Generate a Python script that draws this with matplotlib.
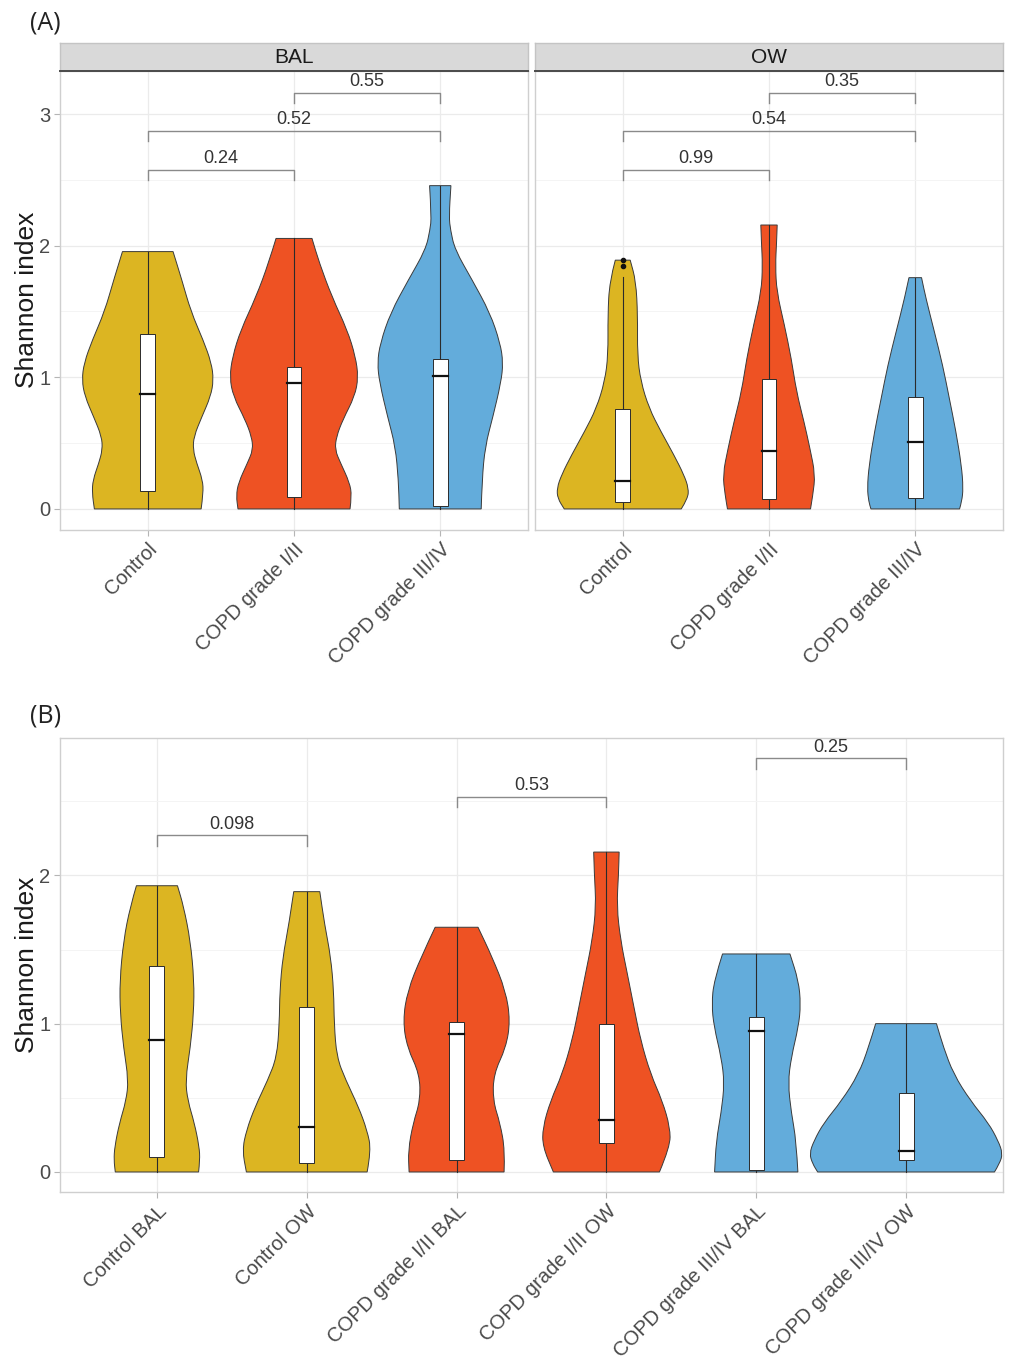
import numpy as np
import matplotlib
matplotlib.use("Agg")
import matplotlib.pyplot as plt
from matplotlib.path import Path
from matplotlib.patches import PathPatch, Rectangle

plt.rcParams['font.family'] = ['Liberation Sans', 'DejaVu Sans']

# ---------------- DATA ----------------
GROUPS_A = ["Control", "COPD grade I/II", "COPD grade III/IV"]
GROUPS_B = ["Control BAL", "Control OW", "COPD grade I/II BAL",
            "COPD grade I/II OW", "COPD grade III/IV BAL", "COPD grade III/IV OW"]

GOLD, RED, BLUE = "#DCB522", "#EE5223", "#63ACDB"
COLORS_A = [GOLD, RED, BLUE]
COLORS_B = [GOLD, GOLD, RED, RED, BLUE, BLUE]

# violin outlines: Shannon value levels and half width (in category units)
BAL_Y = [
    [0, 0.12, 0.22, 0.35, 0.45, 0.55, 0.70, 0.855, 0.98, 1.11, 1.28, 1.50, 1.74, 1.955],
    [0, 0.10, 0.20, 0.35, 0.45, 0.55, 0.68, 0.855, 1.0, 1.16, 1.36, 1.61, 1.87, 2.055],
    [0, 0.22, 0.475, 0.70, 0.96, 1.11, 1.26, 1.49, 1.74, 1.97, 2.12, 2.22, 2.456],
]
BAL_W = [
    [0.365, 0.38, 0.375, 0.334, 0.31, 0.315, 0.37, 0.43, 0.45, 0.435, 0.38, 0.295, 0.233, 0.173],
    [0.383, 0.395, 0.38, 0.318, 0.28, 0.29, 0.335, 0.415, 0.44, 0.42, 0.364, 0.26, 0.173, 0.123],
    [0.28, 0.286, 0.307, 0.36, 0.415, 0.43, 0.41, 0.34, 0.218, 0.10, 0.07, 0.06, 0.073],
]
OW_Y = [
    [0, 0.08, 0.157, 0.26, 0.41, 0.59, 0.765, 0.97, 1.17, 1.47, 1.73, 1.89],
    [0, 0.106, 0.26, 0.46, 0.66, 0.89, 1.14, 1.40, 1.65, 1.85, 2.03, 2.157],
    [0, 0.056, 0.157, 0.33, 0.59, 0.84, 1.09, 1.35, 1.60, 1.757],
]
OW_W = [
    [0.40, 0.445, 0.45, 0.418, 0.35, 0.26, 0.18, 0.123, 0.10, 0.102, 0.09, 0.051],
    [0.284, 0.30, 0.316, 0.28, 0.24, 0.188, 0.153, 0.105, 0.053, 0.044, 0.052, 0.056],
    [0.303, 0.318, 0.328, 0.316, 0.278, 0.233, 0.188, 0.13, 0.073, 0.043],
]
B_Y = [
    [0, 0.08, 0.17, 0.33, 0.48, 0.62, 0.84, 1.07, 1.29, 1.56, 1.79, 1.93],
    [0, 0.146, 0.28, 0.44, 0.62, 0.775, 1.0, 1.22, 1.45, 1.67, 1.89],
    [0, 0.146, 0.33, 0.48, 0.66, 0.84, 1.02, 1.22, 1.45, 1.65],
    [0, 0.17, 0.30, 0.48, 0.66, 0.89, 1.11, 1.34, 1.56, 1.79, 2.01, 2.157],
    [0, 0.21, 0.40, 0.60, 0.775, 0.98, 1.13, 1.29, 1.47],
    [0, 0.056, 0.124, 0.21, 0.33, 0.48, 0.66, 0.84, 1.0],
]
B_W = [
    [0.278, 0.287, 0.282, 0.25, 0.206, 0.19, 0.223, 0.245, 0.248, 0.223, 0.178, 0.137],
    [0.403, 0.43, 0.403, 0.345, 0.26, 0.20, 0.183, 0.18, 0.16, 0.119, 0.087],
    [0.317, 0.323, 0.29, 0.243, 0.247, 0.33, 0.358, 0.328, 0.237, 0.143],
    [0.354, 0.425, 0.425, 0.373, 0.295, 0.228, 0.184, 0.139, 0.095, 0.069, 0.081, 0.085],
    [0.278, 0.267, 0.234, 0.212, 0.234, 0.282, 0.297, 0.282, 0.225],
    [0.59, 0.624, 0.645, 0.615, 0.55, 0.43, 0.317, 0.25, 0.203],
]

# box plot stats
BAL_Q1, BAL_MED, BAL_Q3 = [0.14, 0.09, 0.02], [0.87, 0.96, 1.01], [1.33, 1.075, 1.14]
BAL_MAX = [1.955, 2.055, 2.456]
OW_Q1, OW_MED, OW_Q3 = [0.056, 0.076, 0.08], [0.213, 0.44, 0.51], [0.757, 0.99, 0.853]
OW_MAX = [1.765, 2.157, 1.757]
OW_OUT = [[1.845, 1.89], [], []]
B_Q1 = [0.10, 0.063, 0.08, 0.195, 0.01, 0.08]
B_MED = [0.89, 0.30, 0.93, 0.35, 0.95, 0.14]
B_Q3 = [1.39, 1.11, 1.01, 1.00, 1.045, 0.535]
B_MAX = [1.93, 1.89, 1.65, 2.157, 1.47, 1.0]

# pairwise comparisons (p-values)
A_PAIRS = [(1, 2), (1, 3), (2, 3)]
A_BRACKET_Y = [2.577, 2.87, 3.16]
BAL_P = ["0.24", "0.52", "0.55"]
OW_P = ["0.99", "0.54", "0.35"]
B_PAIRS = [(1, 2), (3, 4), (5, 6)]
B_BRACKET_Y = [2.27, 2.53, 2.79]
B_P = ["0.098", "0.53", "0.25"]

W, H = 1012, 1361


def px_rect(x0, y0, x1, y1):
    return [x0 / W, 1 - y1 / H, (x1 - x0) / W, (y1 - y0) / H]


def violin_path(xc, ys, hw):
    right = [(xc + w, y) for y, w in zip(ys, hw)]
    left = [(xc - w, y) for y, w in zip(ys, hw)][::-1]
    verts, codes = [], []
    for k, pts in enumerate([right, left]):
        verts.append(pts[0]); codes.append(Path.MOVETO if k == 0 else Path.LINETO)
        for i in range(1, len(pts) - 1):
            mid = ((pts[i][0] + pts[i + 1][0]) / 2, (pts[i][1] + pts[i + 1][1]) / 2)
            verts += [pts[i], mid]; codes += [Path.CURVE3, Path.CURVE3]
        verts.append(pts[-1]); codes.append(Path.LINETO)
    verts.append(right[0]); codes.append(Path.CLOSEPOLY)
    return Path(verts, codes)


def draw_group(ax, xc, ys, hw, color, q1, med, q3, vmax, outliers=()):
    ax.add_patch(PathPatch(violin_path(xc, ys, hw), facecolor=color,
                           edgecolor="#3A3A3A", lw=0.7, zorder=2))
    ax.plot([xc, xc], [0, vmax], color="#2B2B2B", lw=0.8, zorder=3)
    ax.add_patch(Rectangle((xc - 0.05, q1), 0.1, q3 - q1, facecolor="white",
                           edgecolor="#2B2B2B", lw=0.7, zorder=4))
    ax.plot([xc - 0.05, xc + 0.05], [med, med], color="#111111", lw=1.6, zorder=5)
    if len(outliers):
        ax.scatter([xc] * len(outliers), outliers, s=9, color="#111111", zorder=6)


def style_axes(ax, ncat, xlim, ylim, yticks, labels):
    ax.set_facecolor("white")
    for s in ax.spines.values():
        s.set_color("#CFCFCF"); s.set_linewidth(1.0)
    ax.set_yticks(yticks)
    ax.set_yticks([t + 0.5 for t in yticks[:-1]] + [yticks[-1] + 0.5], minor=True)
    ax.set_xticks(range(1, ncat + 1))
    ax.set_xlim(*xlim); ax.set_ylim(*ylim)
    ax.grid(True, which="major", color="#EBEBEB", lw=0.9, zorder=0)
    ax.grid(True, which="minor", axis="y", color="#F4F4F4", lw=0.7, zorder=0)
    ax.set_axisbelow(True)
    ax.tick_params(which="minor", length=0)
    ax.tick_params(which="major", length=4, color="#B5B5B5", labelcolor="#4A4A4A",
                   labelsize=14.5, pad=3)
    ax.set_xticklabels(labels, rotation=45, ha="right", va="top", rotation_mode="anchor")


def brackets(ax, pairs, levels, ptxt, drop, txt_gap):
    for (a, b), yb, t in zip(pairs, levels, ptxt):
        ax.plot([a, a, b, b], [yb - drop, yb, yb, yb - drop], color="#8A8A8A", lw=1.0, zorder=3)
        ax.text((a + b) / 2, yb + txt_gap, t, ha="center", va="center", fontsize=13,
                color="#333333")


fig = plt.figure(figsize=(W / 100, H / 100), dpi=100)

# ---------------- panel A ----------------
A_YLIM = (-0.16, 3.327)
facets = [("BAL", 60, 528, BAL_Y, BAL_W, BAL_Q1, BAL_MED, BAL_Q3, BAL_MAX, [[], [], []], BAL_P),
          ("OW", 535, 1003, OW_Y, OW_W, OW_Q1, OW_MED, OW_Q3, OW_MAX, OW_OUT, OW_P)]
for name, x0, x1, Ys, Ws, q1, med, q3, mx, outs, pv in facets:
    ax = fig.add_axes(px_rect(x0, 71, x1, 530))
    style_axes(ax, 3, (0.4, 3.6), A_YLIM, [0, 1, 2, 3], GROUPS_A)
    if x0 > 100:
        ax.tick_params(axis="y", labelleft=False, length=0)
    for i in range(3):
        draw_group(ax, i + 1, Ys[i], Ws[i], COLORS_A[i], q1[i], med[i], q3[i], mx[i], outs[i])
    brackets(ax, A_PAIRS, A_BRACKET_Y, pv, 0.075, 0.085)
    ax.set_ylim(*A_YLIM)

    sax = fig.add_axes(px_rect(x0, 43, x1, 71))
    sax.set_facecolor("#D9D9D9")
    sax.set_xticks([]); sax.set_yticks([])
    for s in sax.spines.values():
        s.set_color("#C4C4C4"); s.set_linewidth(1.0)
    sax.spines["bottom"].set_color("#4A4A4A"); sax.spines["bottom"].set_linewidth(1.4)
    sax.text(0.5, 0.47, name, ha="center", va="center", fontsize=15, color="#1A1A1A",
             transform=sax.transAxes)

fig.text(27 / W, 1 - 300 / H, "Shannon index", rotation=90, ha="center", va="center",
         fontsize=19, color="#1A1A1A")
fig.text(30 / W, 1 - 23 / H, "(A)", ha="left", va="center", fontsize=18,
         family=["Open Sans", "DejaVu Sans"], color="#222222")

# ---------------- panel B ----------------
B_YLIM = (-0.135, 2.926)
axb = fig.add_axes(px_rect(60, 738, 1003, 1192))
style_axes(axb, 6, (0.353, 6.647), B_YLIM, [0, 1, 2], GROUPS_B)
for i in range(6):
    draw_group(axb, i + 1, B_Y[i], B_W[i], COLORS_B[i], B_Q1[i], B_MED[i], B_Q3[i], B_MAX[i])
brackets(axb, B_PAIRS, B_BRACKET_Y, B_P, 0.07, 0.075)
axb.set_ylim(*B_YLIM)

fig.text(27 / W, 1 - 965 / H, "Shannon index", rotation=90, ha="center", va="center",
         fontsize=19, color="#1A1A1A")
fig.text(30 / W, 1 - 716 / H, "(B)", ha="left", va="center", fontsize=18,
         family=["Open Sans", "DejaVu Sans"], color="#222222")

fig.savefig("out.png", dpi=100, facecolor="white")
